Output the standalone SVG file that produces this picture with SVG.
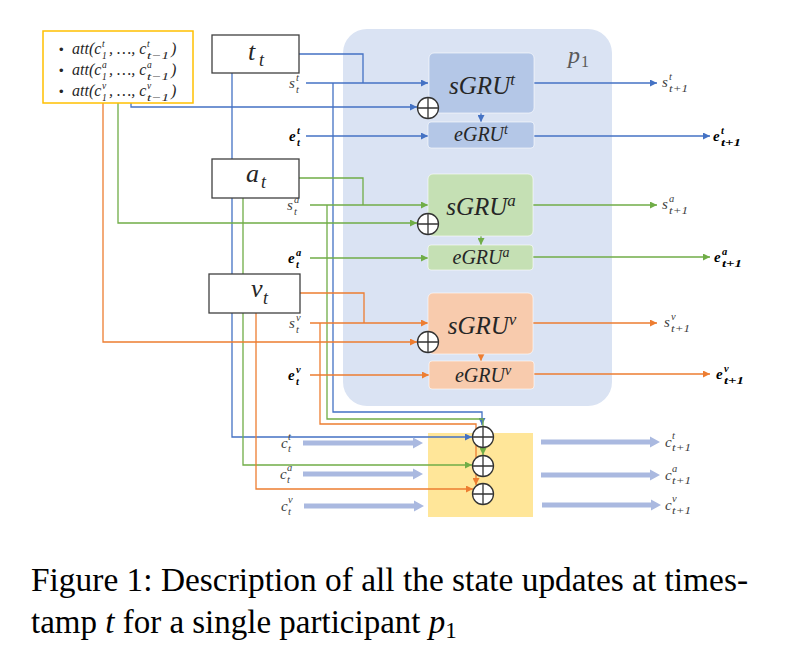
<svg xmlns="http://www.w3.org/2000/svg" width="796" height="649" viewBox="0 0 796 649">
<style>
.ln{fill:none;stroke-width:1.3}
.b{stroke:#4472c4}.g{stroke:#70ad47}.o{stroke:#ed7d31}
.node{fill:#fff;stroke:#404040;stroke-width:1.3}
.m{font-family:"Liberation Serif",serif;font-style:italic;fill:#262626}
.att{font-family:"Liberation Serif",serif;font-style:italic;font-size:16px;fill:#262626}
.asc{font-family:"Liberation Serif",serif;font-style:italic;font-size:9.5px;fill:#262626}
.lbl{font-family:"Liberation Serif",serif;font-style:italic;font-size:15px;fill:#404040}
.sc{font-family:"Liberation Serif",serif;font-style:italic;font-size:10.5px;fill:#404040}
.bd{font-weight:bold;fill:#000}
.cap{font-family:"Liberation Serif",serif;font-size:33px;fill:#000}
.thick{fill:#aab9e0}
</style>
<defs>
<marker id="ab" viewBox="0 0 10 10" refX="10" refY="5" markerWidth="8" markerHeight="7" markerUnits="userSpaceOnUse" orient="auto"><path d="M0,0L10,5L0,10z" fill="#4472c4"/></marker>
<marker id="ag" viewBox="0 0 10 10" refX="10" refY="5" markerWidth="8" markerHeight="7" markerUnits="userSpaceOnUse" orient="auto"><path d="M0,0L10,5L0,10z" fill="#70ad47"/></marker>
<marker id="ao" viewBox="0 0 10 10" refX="10" refY="5" markerWidth="8" markerHeight="7" markerUnits="userSpaceOnUse" orient="auto"><path d="M0,0L10,5L0,10z" fill="#ed7d31"/></marker>
<g id="oplus"><circle cx="0" cy="0" r="10.5" fill="#fff" stroke="#333" stroke-width="1.3"/><path d="M-10.5,0H10.5M0,-10.5V10.5" fill="none" stroke="#333" stroke-width="1.3"/></g>
</defs>

<g id="p1">
<rect x="343" y="29" width="269" height="377" rx="24" fill="#dae3f3"/>
<text class="m" x="568" y="63" font-size="24" style="fill:#595959">p</text>
<text class="m" x="581" y="67" font-size="16" style="font-style:normal;fill:#595959">1</text>
</g>
<g id="cbox"><rect x="428" y="433" width="105" height="84" fill="#ffe699"/></g>

<g id="connectors">
<path class="ln b" d="M299,54H363V83"/>
<path class="ln b" d="M306,83H428" marker-end="url(#ab)"/>
<path class="ln b" d="M333,83V412H482V425" marker-end="url(#ab)"/>
<path class="ln b" d="M131,103V107H417" marker-end="url(#ab)"/>
<path class="ln b" d="M306,136H428" marker-end="url(#ab)"/>
<path class="ln b" d="M481,113V122" marker-end="url(#ab)"/>
<path class="ln b" d="M534,83H657" marker-end="url(#ab)"/>
<path class="ln b" d="M534,136H710" marker-end="url(#ab)"/>
<path class="ln b" d="M232,73V437H472" marker-end="url(#ab)"/>
<path class="ln g" d="M299,178H363V205"/>
<path class="ln g" d="M310,205H428" marker-end="url(#ag)"/>
<path class="ln g" d="M327,205V419H483V455" marker-end="url(#ag)"/>
<path class="ln g" d="M118,103V223H417" marker-end="url(#ag)"/>
<path class="ln g" d="M310,258H428" marker-end="url(#ag)"/>
<path class="ln g" d="M481,236V245" marker-end="url(#ag)"/>
<path class="ln g" d="M533,205H657" marker-end="url(#ag)"/>
<path class="ln g" d="M533,257H710" marker-end="url(#ag)"/>
<path class="ln g" d="M243,198V465H472" marker-end="url(#ag)"/>
<path class="ln o" d="M300,293H364V323"/>
<path class="ln o" d="M310,323H428" marker-end="url(#ao)"/>
<path class="ln o" d="M320,323V424H476V485" marker-end="url(#ao)"/>
<path class="ln o" d="M103,103V342H417" marker-end="url(#ao)"/>
<path class="ln o" d="M310,375H429" marker-end="url(#ao)"/>
<path class="ln o" d="M481,354V361" marker-end="url(#ao)"/>
<path class="ln o" d="M533,323H657" marker-end="url(#ao)"/>
<path class="ln o" d="M534,374H710" marker-end="url(#ao)"/>
<path class="ln o" d="M256,313V489H473" marker-end="url(#ao)"/>
<path class="thick" d="M303,440.5H413V437.5L423,443L413,448.5V445.5H303z"/>
<path class="thick" d="M303,471.5H413V468.5L423,474L413,479.5V476.5H303z"/>
<path class="thick" d="M304,503.5H414V500.5L424,506L414,511.5V508.5H304z"/>
<path class="thick" d="M541,439.5H650V436.5L660,442L650,447.5V444.5H541z"/>
<path class="thick" d="M541,472.5H650V469.5L660,475L650,480.5V477.5H541z"/>
<path class="thick" d="M542,502.5H651V499.5L661,505L651,510.5V507.5H542z"/>
</g>

<g id="att">
<rect x="43" y="31" width="150" height="72" fill="#fff" stroke="#ffc000" stroke-width="1.5"/>
<text x="59" y="54" font-family="Liberation Sans, sans-serif" font-size="13" fill="#262626">•</text>
<text class="att" x="72" y="54">att(c</text><text class="asc" x="102" y="47">t</text><text class="asc" x="102" y="58.5">1</text>
<text class="att" x="109" y="54">, …, c</text><text class="asc" x="147" y="47">t</text><text class="asc" x="147" y="58.5" textLength="22" lengthAdjust="spacingAndGlyphs">t−1</text>
<text class="att" x="171" y="54">)</text>
<text x="59" y="75" font-family="Liberation Sans, sans-serif" font-size="13" fill="#262626">•</text>
<text class="att" x="72" y="75">att(c</text><text class="asc" x="102" y="68">a</text><text class="asc" x="102" y="79.5">1</text>
<text class="att" x="109" y="75">, …, c</text><text class="asc" x="147" y="68">a</text><text class="asc" x="147" y="79.5" textLength="22" lengthAdjust="spacingAndGlyphs">t−1</text>
<text class="att" x="171" y="75">)</text>
<text x="59" y="96" font-family="Liberation Sans, sans-serif" font-size="13" fill="#262626">•</text>
<text class="att" x="72" y="96">att(c</text><text class="asc" x="102" y="89">v</text><text class="asc" x="102" y="100.5">1</text>
<text class="att" x="109" y="96">, …, c</text><text class="asc" x="147" y="89">v</text><text class="asc" x="147" y="100.5" textLength="22" lengthAdjust="spacingAndGlyphs">t−1</text>
<text class="att" x="171" y="96">)</text>
</g>

<g id="tt"><rect class="node" x="212" y="35" width="87" height="38"/><text class="m" x="248" y="60" font-size="26">t</text><text class="m" x="259" y="66" font-size="18">t</text></g>
<g id="at"><rect class="node" x="212" y="159" width="87" height="39"/><text class="m" x="246" y="182" font-size="26">a</text><text class="m" x="261" y="188" font-size="18">t</text></g>
<g id="vt"><rect class="node" x="209" y="274" width="91" height="39"/><text class="m" x="251" y="297" font-size="26">v</text><text class="m" x="263" y="304" font-size="18">t</text></g>

<g id="sGRUt"><rect x="429" y="53" width="105" height="60" rx="5" fill="#b4c7e7" stroke="#fff" stroke-opacity="0.6"/><text class="m" x="482" y="94" font-size="25" text-anchor="middle">sGRU<tspan font-size="17" dy="-9">t</tspan></text></g>
<g id="eGRUt"><rect x="428" y="122" width="106" height="26" rx="3" fill="#b4c7e7" stroke="#fff" stroke-opacity="0.6"/><text class="m" x="481" y="141" font-size="20" text-anchor="middle">eGRU<tspan font-size="14" dy="-7">t</tspan></text></g>
<g id="sGRUa"><rect x="428" y="174" width="105" height="62" rx="5" fill="#c5e0b4" stroke="#fff" stroke-opacity="0.6"/><text class="m" x="481" y="215" font-size="25" text-anchor="middle">sGRU<tspan font-size="17" dy="-9">a</tspan></text></g>
<g id="eGRUa"><rect x="428" y="245" width="105" height="25" rx="3" fill="#c5e0b4" stroke="#fff" stroke-opacity="0.6"/><text class="m" x="481" y="264" font-size="20" text-anchor="middle">eGRU<tspan font-size="14" dy="-7">a</tspan></text></g>
<g id="sGRUv"><rect x="428" y="293" width="105" height="61" rx="5" fill="#f8cbad" stroke="#fff" stroke-opacity="0.6"/><text class="m" x="482" y="334" font-size="25" text-anchor="middle">sGRU<tspan font-size="17" dy="-9">v</tspan></text></g>
<g id="eGRUv"><rect x="429" y="361" width="105" height="28" rx="3" fill="#f8cbad" stroke="#fff" stroke-opacity="0.6"/><text class="m" x="483" y="382" font-size="20" text-anchor="middle">eGRU<tspan font-size="14" dy="-7">v</tspan></text></g>

<g id="oplus-top"><use href="#oplus" x="428" y="108"/></g>
<g id="oplus-mid"><use href="#oplus" x="428" y="224"/></g>
<g id="oplus-low"><use href="#oplus" x="428" y="342"/></g>
<g id="oplus-c1"><use href="#oplus" x="483" y="437"/></g>
<g id="oplus-c2"><use href="#oplus" x="483" y="466"/></g>
<g id="oplus-c3"><use href="#oplus" x="483" y="494"/></g>

<g id="labels">
<text class="lbl" x="289" y="88">s</text><text class="sc" x="296" y="81">t</text><text class="sc" x="296" y="93">t</text>
<text class="lbl bd" x="289" y="141">e</text><text class="sc bd" x="297" y="134">t</text><text class="sc bd" x="297" y="146">t</text>
<text class="lbl" x="287" y="210">s</text><text class="sc" x="294" y="203">a</text><text class="sc" x="294" y="215">t</text>
<text class="lbl bd" x="288" y="263">e</text><text class="sc bd" x="296" y="256">a</text><text class="sc bd" x="296" y="268">t</text>
<text class="lbl" x="289" y="328">s</text><text class="sc" x="296" y="321">v</text><text class="sc" x="296" y="333">t</text>
<text class="lbl bd" x="288" y="380">e</text><text class="sc bd" x="296" y="373">v</text><text class="sc bd" x="296" y="385">t</text>

<text class="lbl" x="662" y="87">s</text><text class="sc" x="669" y="80">t</text><text class="sc" x="669" y="92" textLength="19" lengthAdjust="spacingAndGlyphs">t+1</text>
<text class="lbl bd" x="713" y="141">e</text><text class="sc bd" x="721" y="134">t</text><text class="sc bd" x="721" y="146" textLength="20" lengthAdjust="spacingAndGlyphs">t+1</text>
<text class="lbl" x="662" y="209">s</text><text class="sc" x="669" y="202">a</text><text class="sc" x="669" y="214" textLength="19" lengthAdjust="spacingAndGlyphs">t+1</text>
<text class="lbl bd" x="714" y="262">e</text><text class="sc bd" x="722" y="255">a</text><text class="sc bd" x="722" y="267" textLength="20" lengthAdjust="spacingAndGlyphs">t+1</text>
<text class="lbl" x="664" y="327">s</text><text class="sc" x="671" y="320">v</text><text class="sc" x="671" y="332" textLength="19" lengthAdjust="spacingAndGlyphs">t+1</text>
<text class="lbl bd" x="716" y="379">e</text><text class="sc bd" x="724" y="372">v</text><text class="sc bd" x="724" y="384" textLength="20" lengthAdjust="spacingAndGlyphs">t+1</text>

<text class="lbl" x="281" y="448">c</text><text class="sc" x="288" y="440">t</text><text class="sc" x="288" y="452">t</text>
<text class="lbl" x="280" y="479">c</text><text class="sc" x="287" y="471">a</text><text class="sc" x="287" y="483">t</text>
<text class="lbl" x="281" y="511">c</text><text class="sc" x="288" y="503">v</text><text class="sc" x="288" y="515">t</text>
<text class="lbl" x="665" y="447">c</text><text class="sc" x="672" y="439">t</text><text class="sc" x="672" y="451" textLength="19" lengthAdjust="spacingAndGlyphs">t+1</text>
<text class="lbl" x="665" y="480">c</text><text class="sc" x="672" y="472">a</text><text class="sc" x="672" y="484" textLength="19" lengthAdjust="spacingAndGlyphs">t+1</text>
<text class="lbl" x="665" y="510">c</text><text class="sc" x="672" y="502">v</text><text class="sc" x="672" y="514" textLength="19" lengthAdjust="spacingAndGlyphs">t+1</text>
</g>

<g id="caption">
<text class="cap" x="31" y="591" textLength="717" lengthAdjust="spacingAndGlyphs">Figure 1: Description of all the state updates at times-</text>
<text class="cap" x="31" y="633">tamp <tspan font-style="italic">t</tspan> for a single participant <tspan font-style="italic">p</tspan><tspan font-size="23" dy="5">1</tspan></text>
</g>
</svg>
